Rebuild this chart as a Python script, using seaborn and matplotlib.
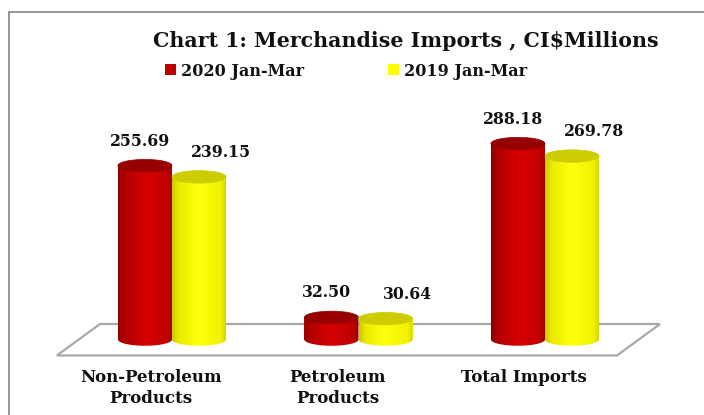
import numpy as np
import pandas as pd
import matplotlib
matplotlib.use("Agg")
import matplotlib.pyplot as plt
import seaborn as sns
from matplotlib.patches import Ellipse, Polygon, Patch
from matplotlib.lines import Line2D
from matplotlib.transforms import ScaledTranslation

# ---------------- data ----------------
categories = ["Non-Petroleum\nProducts", "Petroleum\nProducts", "Total Imports"]
series = ["2020 Jan-Mar", "2019 Jan-Mar"]
values_2020 = [255.69, 32.50, 288.18]
values_2019 = [239.15, 30.64, 269.78]
title = "Chart 1: Merchandise Imports , CI$Millions"

# ---------------- style ----------------
FONT = ["DejaVu Serif", "Liberation Serif"]
TEXT_COLOR = "#111111"
base_colors = ["#CC0000", "#FFFF00"]
legend_colors = ["#C00000", "#FFFF00"]
top_colors = ["#960000", "#CCCC00"]
grad_stops = [0.0, 0.12, 0.5, 0.88, 1.0]
grad_red = [(0.55, 0, 0), (0.70, 0, 0), (0.84, 0.0, 0.0), (0.76, 0, 0), (0.62, 0, 0)]
grad_yel = [(0.78, 0.78, 0), (0.92, 0.92, 0), (1.0, 1.0, 0.05), (0.95, 0.95, 0), (0.82, 0.82, 0)]
gradients = [grad_red, grad_yel]

W, H, DPI = 704, 415, 100
sns.set_theme(style="white")
plt.rcParams["font.family"] = FONT
plt.rcParams["text.color"] = TEXT_COLOR

df = pd.DataFrame({
    "Category": categories * 2,
    "Period": [series[0]] * len(categories) + [series[1]] * len(categories),
    "Value": values_2020 + values_2019,
})

fig = plt.figure(figsize=(W / DPI, H / DPI), dpi=DPI)
fig.patch.set_facecolor("white")

# axes placement (pixels)
ax_left, ax_right, ax_top, ax_bottom = 40, 690, 100, 366
ax = fig.add_axes([ax_left / W, 1 - ax_bottom / H, (ax_right - ax_left) / W, (ax_bottom - ax_top) / H])
ax.set_facecolor("none")

sns.barplot(data=df, x="Category", y="Value", hue="Period", palette=base_colors,
            width=0.58, saturation=1, ax=ax, legend=False, zorder=2, linewidth=0)

# limits: category 0 centre at px 172, 186.5 px per category; value 0 at px 339.5, 0.68 px/unit
px_per_cat, px_per_val = 186.5, 0.68
cat0_px, zero_px = 172, 339.5
xlim = ((ax_left - cat0_px) / px_per_cat, (ax_right - cat0_px) / px_per_cat)
ylim = (-(ax_bottom - zero_px) / px_per_val, (zero_px - ax_top) / px_per_val)

ell_px = 12.5
eh = ell_px / px_per_val

# floor
floor_front = (-0.617, 2.386)
floor_shift = 0.231
floor_front_y, floor_back_y = -23.5, 22.8
floor = Polygon([(floor_front[0], floor_front_y), (floor_front[1], floor_front_y),
                 (floor_front[1] + floor_shift, floor_back_y), (floor_front[0] + floor_shift, floor_back_y)],
                closed=True, facecolor="white", edgecolor="#A8A8A8", linewidth=1.6, zorder=1,
                clip_on=False)
ax.add_patch(floor)

for cont, grad, topc in zip(ax.containers, gradients, top_colors):
    cols = np.array(grad)
    xs = np.linspace(0, 1, 200)
    img = np.stack([np.interp(xs, grad_stops, cols[:, k]) for k in range(3)], axis=-1)[None, :, :]
    for rect in cont:
        x0, w, h = rect.get_x(), rect.get_width(), rect.get_height()
        xc = x0 + w / 2
        t = np.linspace(np.pi, 2 * np.pi, 80)
        arc = list(zip(xc + (w / 2) * np.cos(t), (eh / 2) * np.sin(t)))
        verts = [(x0, h)] + arc + [(x0 + w, h)]
        clip = Polygon(verts, closed=True, facecolor="none", edgecolor="none", zorder=2)
        ax.add_patch(clip)
        im = ax.imshow(img, extent=(x0, x0 + w, -eh / 2, h), aspect="auto",
                       interpolation="bilinear", zorder=3)
        im.set_clip_path(clip)
        ax.add_patch(Ellipse((xc, h), w, eh, facecolor=topc, edgecolor=topc, linewidth=0.5, zorder=4))

# data labels
label_dx = [-5, 22]
label_dy = 16.0
for cont, dx in zip(ax.containers, label_dx):
    for rect in cont:
        xc = rect.get_x() + rect.get_width() / 2
        h = rect.get_height()
        ax.annotate(f"{h:.2f}", xy=(xc, h), xytext=(dx * 0.72, label_dy * 0.72),
                    textcoords="offset points", ha="center", va="bottom",
                    fontsize=11.3, fontweight="bold", color=TEXT_COLOR, zorder=6)

ax.set_xlim(*xlim)
ax.set_ylim(*ylim)
ax.set_xlabel("")
ax.set_ylabel("")
ax.set_yticks([])
for s in ax.spines.values():
    s.set_visible(False)
ax.tick_params(axis="x", length=0, pad=2.5)
for lbl in ax.get_xticklabels():
    lbl.set_fontsize(12)
    lbl.set_fontweight("bold")
    lbl.set_color(TEXT_COLOR)
    lbl.set_linespacing(1.3)
    lbl.set_transform(lbl.get_transform() + ScaledTranslation(-21 / DPI, 0, fig.dpi_scale_trans))

# title
fig.text(406 / W, 1 - 41 / H, title, ha="center", va="center", fontsize=14.8,
         fontweight="bold", color=TEXT_COLOR)

# legend
handles = [Patch(facecolor=c, edgecolor="none") for c in legend_colors]
fig.legend(handles, series, loc="center", bbox_to_anchor=(346 / W, 1 - 71 / H), ncol=2,
           frameon=False, handlelength=0.7, handleheight=0.7, handletextpad=0.35,
           columnspacing=5.2, labelcolor=TEXT_COLOR,
           prop=dict(family=FONT, weight="bold", size=11.5))

# outer frame
fig.add_artist(Line2D([8.5 / W, 1.0], [1 - 12 / H, 1 - 12 / H], transform=fig.transFigure,
                      color="#8C8C8C", linewidth=1.3))
fig.add_artist(Line2D([8.5 / W, 8.5 / W], [0, 1 - 12 / H], transform=fig.transFigure,
                      color="#8C8C8C", linewidth=1.3))

fig.savefig("out.png", dpi=DPI, facecolor="white")
